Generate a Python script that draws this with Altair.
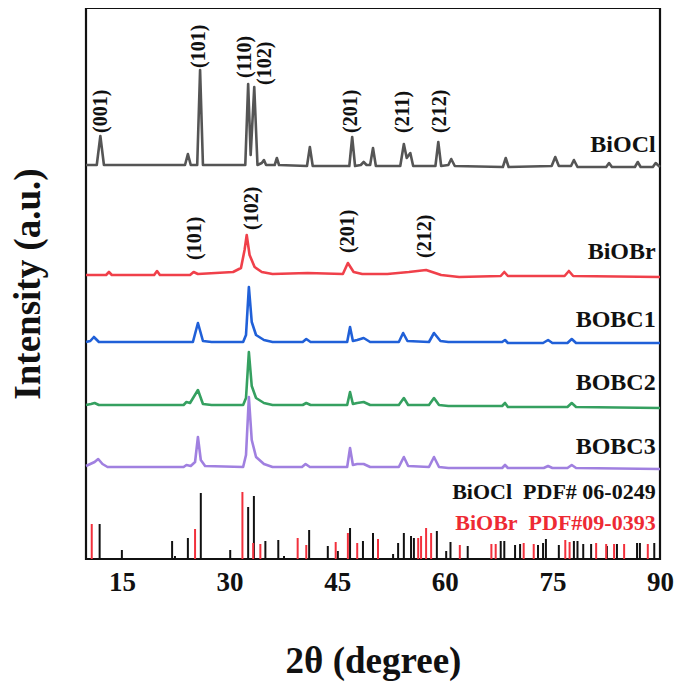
import altair as alt
import pandas as pd

FONT = "Liberation Serif"

# ---- XRD traces: (2theta, intensity a.u.) ----
biocl_x = [10.0, 11.5, 12.0, 12.5, 23.8, 24.2, 24.6, 25.5, 25.9, 26.3, 32.2, 32.6, 32.95, 33.45, 33.9, 34.5, 34.8, 35.1,
           36.3, 36.6, 36.9, 40.8, 41.2, 41.6, 46.7, 47.1, 47.5, 48.3, 48.7, 49.1, 49.6, 50.0, 50.4, 53.8, 54.3, 54.7,
           55.2, 55.6, 58.7, 59.1, 59.5, 60.5, 60.9, 61.4, 68.1, 68.5, 68.9, 74.9, 75.4, 75.9, 77.6, 78.0, 78.5, 82.5,
           82.9, 83.3, 86.5, 86.9, 87.3, 89.0, 89.4, 90.0]
biocl_y = [394, 394, 423, 394, 394, 405, 394, 394, 489, 394, 394, 475, 404, 472, 394, 396, 399, 394,
           394, 401, 394, 393, 412, 393, 393, 422, 393, 394, 397, 394, 394, 411, 393, 393, 415, 401,
           406, 393, 393, 417, 393, 394, 400, 393, 392, 401, 392, 393, 402, 393, 393, 399, 392, 392,
           396, 392, 392, 397, 392, 392, 396, 392]

biobr_x = [10.0, 12.8, 13.2, 13.6, 19.5, 19.9, 20.3, 24.5, 25.0, 25.6, 30.5, 31.6, 32.1, 32.4, 32.8, 33.5, 34.5, 36.0,
           40.9, 45.8, 46.5, 47.3, 48.5, 52.0, 55.0, 57.4, 59.5, 62.0, 67.8, 68.3, 68.8, 76.7, 77.3, 77.9, 90.0]
biobr_y = [284, 284, 287, 284, 284, 288, 284, 284, 287, 285, 287, 291, 309, 324, 304, 292, 287, 285,
           286, 285, 296, 287, 285, 285, 287, 289, 284, 282, 283, 287, 283, 283, 288, 283, 282]

bobc1_x = [10.0, 10.6, 11.1, 11.8, 24.9, 25.6, 26.3, 27.5, 31.9, 32.3, 32.7, 33.1, 33.7, 34.8, 36.0, 40.2, 40.7, 41.3,
           46.4, 46.8, 47.2, 47.8, 48.7, 49.6, 53.6, 54.2, 54.8, 57.8, 58.5, 59.4, 60.5, 68.0, 68.4, 68.8, 73.7, 74.4,
           75.0, 77.1, 77.7, 78.3, 90.0]
bobc1_y = [217, 218, 222, 217, 217, 236, 218, 217, 217, 224, 272, 237, 224, 219, 217, 217, 220, 217,
           217, 232, 218, 219, 221, 217, 217, 226, 218, 217, 226, 218, 217, 217, 219, 216, 216, 219,
           216, 216, 220, 216, 216]

bobc2_x = [10.0, 10.7, 11.2, 11.8, 23.6, 24.0, 24.5, 25.6, 26.3, 27.5, 31.9, 32.3, 32.7, 33.1, 33.7, 34.8, 36.0, 40.2,
           40.7, 41.3, 46.4, 46.8, 47.2, 47.8, 48.7, 49.6, 53.6, 54.3, 54.9, 57.8, 58.5, 59.2, 60.5, 68.0, 68.4, 68.8,
           77.1, 77.7, 78.3, 90.0]
bobc2_y = [154, 155, 156, 154, 154, 157, 156, 169, 155, 154, 154, 161, 207, 173, 161, 156, 154, 154,
           156, 154, 154, 167, 155, 156, 157, 154, 154, 161, 154, 154, 161, 154, 153, 153, 156, 152,
           152, 156, 152, 151]

bobc3_x = [10.0, 11.2, 11.7, 12.3, 13.0, 23.6, 24.0, 24.6, 25.2, 25.6, 26.0, 26.6, 31.9, 32.3, 32.7, 33.1, 33.7, 34.8,
           36.0, 40.1, 40.6, 41.2, 46.4, 46.8, 47.2, 47.8, 48.7, 49.6, 53.6, 54.3, 54.9, 57.8, 58.5, 59.2, 60.5, 68.0,
           68.4, 68.8, 73.8, 74.4, 75.0, 77.1, 77.7, 78.3, 90.0]
bobc3_y = [93, 97, 100, 95, 92, 92, 94, 93, 97, 122, 99, 93, 92, 104, 162, 119, 102, 95,
           92, 92, 95, 92, 92, 111, 94, 95, 95, 92, 92, 102, 93, 92, 102, 92, 91, 91,
           94, 91, 91, 93, 91, 91, 94, 91, 90]

series_names = ["BiOCl", "BiOBr", "BOBC1", "BOBC2", "BOBC3"]
series_colors = ["#555555", "#f0404a", "#2060d8", "#35a060", "#a080e0"]

# ---- reference cards (stick patterns) ----
ref_biocl_x = [11.9, 15.0, 22.0, 22.4, 24.2, 26.0, 30.1, 32.6, 33.4, 35.0, 36.8, 37.6, 41.1, 43.7, 45.1, 46.8, 48.6,
               50.0, 52.8, 53.5, 54.3, 55.3, 55.7, 58.9, 60.2, 60.8, 63.2, 67.8, 68.3, 69.8, 70.5, 73.0, 73.7, 74.1,
               75.9, 78.0, 78.5, 79.3, 80.4, 82.6, 84.0, 86.8, 87.2, 89.2]
ref_biocl_h = [35, 9, 18, 3, 21, 66, 9, 52, 63, 18, 19, 3, 29, 13, 8, 31, 18,
               26, 5, 16, 26, 23, 21, 28, 8, 17, 13, 18, 18, 14, 15, 14, 16, 20,
               14, 18, 18, 15, 15, 13, 15, 16, 16, 16]
ref_biobr_x = [10.8, 25.2, 31.8, 33.3, 34.3, 39.5, 40.7, 44.8, 46.5, 47.8, 50.7, 56.3, 56.7, 57.4, 58.1, 62.1, 66.5,
               67.1, 71.0, 72.4, 76.8, 77.4, 81.1, 82.5, 83.6, 85.0, 88.3]
ref_biobr_h = [35, 30, 67, 16, 15, 21, 14, 17, 26, 16, 20, 21, 23, 31, 26, 14, 15,
               15, 16, 15, 19, 17, 16, 15, 15, 15, 15]
card_names = ["BiOCl", "BiOBr"]
card_stick_colors = ["#111111", "#f2303c"]

# ---- peak index labels ----
hkl_x = [12.1, 25.8, 32.2, 34.9, 47.0, 54.2, 59.4, 25.2, 33.2, 46.5, 57.3]
hkl_y = [426, 491, 481, 474, 426, 426, 426, 299, 329, 306, 301]
hkl_text = ["(001)", "(101)", "(110)", "(102)", "(201)", "(211)", "(212)", "(101)", "(102)", "(201)", "(212)"]

# ---- sample labels on the right ----
name_y = [414, 307, 239, 176, 112]

card_text = ["BiOCl\u2002PDF# 06-0249", "BiOBr\u2002PDF#09-0393"]
card_y = [67, 36]
card_text_colors = ["#111111", "#ee2a33"]

# ---------------- build tables ----------------
rows = []
for name, xs, ys in zip(series_names,
                        [biocl_x, biobr_x, bobc1_x, bobc2_x, bobc3_x],
                        [biocl_y, biobr_y, bobc1_y, bobc2_y, bobc3_y]):
    for a, b in zip(xs, ys):
        rows.append({"series": name, "x": a, "y": b})
lines_df = pd.DataFrame(rows)

sticks = []
for a, h in zip(ref_biocl_x, ref_biocl_h):
    sticks.append({"card": "BiOCl", "x": a, "y0": 0, "y1": h})
for a, h in zip(ref_biobr_x, ref_biobr_h):
    sticks.append({"card": "BiOBr", "x": a, "y0": 0, "y1": h})
sticks_df = pd.DataFrame(sticks)

hkl_df = pd.DataFrame({"x": hkl_x, "y": hkl_y, "t": hkl_text})
names_df = pd.DataFrame({"x": [89.4] * 5, "y": name_y, "t": series_names})
cards_df = pd.DataFrame({"x": [89.4, 89.4], "y": card_y, "t": card_text, "c": card_text_colors})

xscale = alt.Scale(domain=[10, 90], nice=False, zero=False)
yscale = alt.Scale(domain=[0, 551], nice=False, zero=False)

xenc = alt.X("x:Q", scale=xscale,
             axis=alt.Axis(title="2θ (degree)", values=[15, 30, 45, 60, 75, 90], grid=False, ticks=False,
                           domain=False, labelFont=FONT, labelFontSize=27, labelFontWeight="bold",
                           labelColor="#111", labelPadding=10, labelFlush=False,
                           titleFont=FONT, titleFontSize=37, titleFontWeight="bold", titleColor="#111",
                           titlePadding=48))
yenc = alt.Y("y:Q", scale=yscale,
             axis=alt.Axis(title="Intensity (a.u.)", labels=False, ticks=False, grid=False, domain=False,
                           titleFont=FONT, titleFontSize=37, titleFontWeight="bold", titleColor="#111",
                           titlePadding=39))

sticks_layer = alt.Chart(sticks_df).mark_rule(strokeWidth=2).encode(
    x=alt.X("x:Q", scale=xscale),
    y=alt.Y("y0:Q", scale=yscale),
    y2="y1:Q",
    color=alt.Color("card:N", scale=alt.Scale(domain=card_names, range=card_stick_colors), legend=None),
)

lines_layer = alt.Chart(lines_df).mark_line(strokeWidth=2.6, strokeJoin="round").encode(
    x=xenc,
    y=yenc,
    color=alt.Color("series:N", scale=alt.Scale(domain=series_names, range=series_colors), legend=None),
    detail="series:N",
)

hkl_layer = alt.Chart(hkl_df).mark_text(angle=270, align="left", baseline="middle", font=FONT,
                                        fontSize=20, fontWeight="bold", color="#111").encode(
    x=alt.X("x:Q", scale=xscale), y=alt.Y("y:Q", scale=yscale), text="t:N")

names_layer = alt.Chart(names_df).mark_text(align="right", baseline="middle", font=FONT,
                                            fontSize=24, fontWeight="bold", color="#111").encode(
    x=alt.X("x:Q", scale=xscale), y=alt.Y("y:Q", scale=yscale), text="t:N")

cards_layer = alt.Chart(cards_df).mark_text(align="right", baseline="middle", font=FONT,
                                            fontSize=22, fontWeight="bold").encode(
    x=alt.X("x:Q", scale=xscale), y=alt.Y("y:Q", scale=yscale), text="t:N",
    color=alt.Color("c:N", scale=None, legend=None))

chart = alt.layer(sticks_layer, lines_layer, hkl_layer, names_layer, cards_layer).resolve_scale(
    color="independent"
).properties(
    width=574, height=551,
    autosize=alt.AutoSizeParams(type="none"),
    padding={"left": 78, "top": 0, "right": 17, "bottom": 124},
).configure(background="white").configure_view(stroke="#111", strokeWidth=2.2)

chart.save("out.html", embed_options={"renderer": "svg", "actions": False})
